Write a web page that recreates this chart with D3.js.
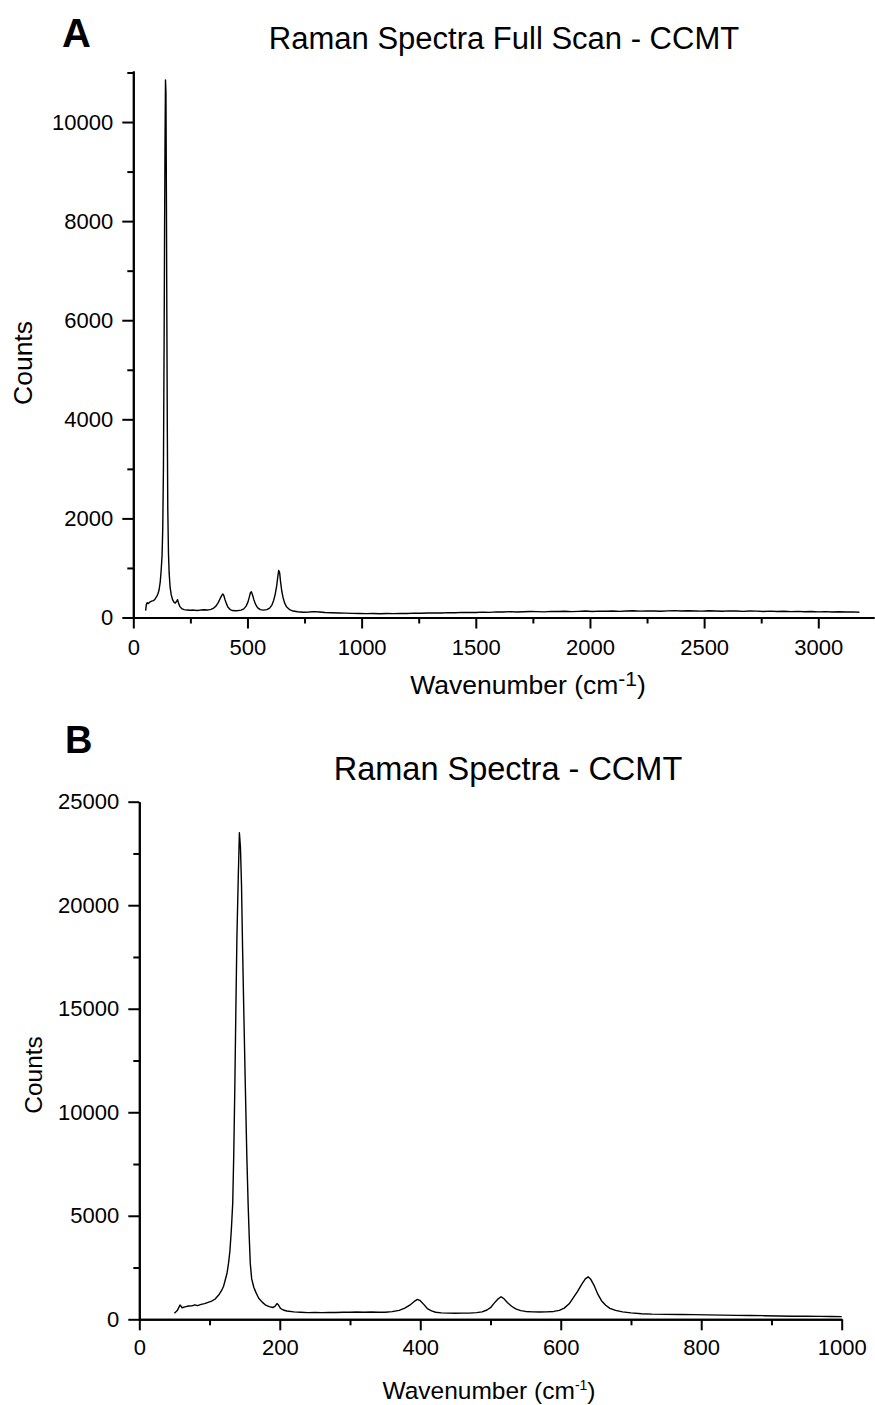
<!DOCTYPE html>
<html>
<head>
<meta charset="utf-8">
<script src="https://cdn.jsdelivr.net/npm/d3@7/dist/d3.min.js"></script>
<style>
  html, body { margin: 0; padding: 0; background: #fff; }
  svg { display: block; }
  text { font-family: "Liberation Sans", Arial, sans-serif; fill: #000; }
</style>
</head>
<body>
<svg id="chart" width="875" height="1405"></svg>
<script>
// ---------- Panel A: full scan ----------
const scanA_wavenumber = [54,57,61,65,72,80,88,95,102,108,113,118,122,126,129,132,135,137,139,141,143,145,147,149,151,154,157,161,166,172,178,184,190,194,198,204,212,222,235,250,265,280,295,310,325,340,352,362,372,380,387,392,396,401,407,414,424,435,448,460,472,484,494,502,508,513,517,522,528,535,544,556,570,585,597,607,615,622,628,633,637,641,645,650,656,663,672,684,700,720,745,770,790,815,840,870,900,930,960,990,1020,1050,1080,1110,1140,1170,1200,1230,1260,1290,1320,1350,1380,1410,1440,1470,1500,1530,1560,1590,1620,1650,1680,1710,1740,1770,1800,1830,1860,1890,1920,1950,1980,2010,2040,2070,2100,2130,2160,2190,2220,2250,2280,2310,2340,2370,2400,2430,2460,2490,2520,2550,2580,2610,2640,2670,2700,2730,2760,2790,2820,2850,2880,2910,2940,2970,3000,3030,3060,3090,3120,3150,3180,3197];
const scanA_counts = [140,260,300,280,310,330,340,370,420,480,560,720,950,1250,1800,3000,5600,7800,9600,10850,10600,8500,6000,3800,2200,1300,900,620,460,360,310,290,330,360,290,220,180,160,150,145,150,140,150,155,150,165,190,230,300,380,440,475,450,370,290,210,160,140,135,140,150,175,230,310,410,500,520,460,360,270,200,160,150,160,190,250,350,480,640,830,950,900,720,540,400,290,210,160,130,115,105,110,118,110,100,96,92,88,84,80,78,82,76,80,78,84,82,88,86,92,94,92,98,96,104,102,100,108,104,114,110,118,112,116,122,118,114,124,120,126,118,124,130,122,128,126,132,124,130,136,128,134,130,126,134,138,130,136,132,128,136,132,126,134,130,124,132,128,122,128,120,126,118,124,116,120,114,118,112,116,110,114,106];
const xTicksA = [0, 500, 1000, 1500, 2000, 2500, 3000];
const xMinorA = [250, 750, 1250, 1750, 2250, 2750, 3250];
const yTicksA = [0, 2000, 4000, 6000, 8000, 10000];
const yMinorA = [1000, 3000, 5000, 7000, 9000, 11000];
const titleA = "Raman Spectra Full Scan - CCMT";

// ---------- Panel B: 50-1000 cm-1 ----------
const scanB_wavenumber = [50,54,58,61,65,70,75,79,83,88,93,98,103,108,113,117,120,122,125,127,129,131,133,134.5,136,137.5,139,141,142.5,144,145.5,147,149,151,153,155,156.5,158,160,163,166,170,175,180,185,190,193,196,198,201,205,210,220,230,240,250,260,270,280,290,300,310,320,330,340,350,360,370,378,385,391,396,400,405,410,416,422,430,440,450,460,470,480,488,495,500,505,510,515,519,524,530,536,543,550,560,570,580,590,598,605,612,618,624,630,635,639,643,648,653,658,664,670,678,688,700,715,730,750,770,790,810,830,850,870,890,910,930,950,970,985,1000];
const scanB_counts = [290,420,690,560,600,640,650,700,660,720,760,820,880,980,1170,1380,1600,1850,2250,2700,3300,4300,5600,8000,11200,15000,18500,21500,23500,22800,21000,18000,14500,11200,8000,5500,4000,2700,1950,1550,1300,1020,830,680,610,570,620,760,700,530,450,400,360,340,320,330,320,330,330,340,340,350,340,350,340,340,370,430,540,680,850,960,900,720,520,410,340,310,300,290,300,300,320,360,450,560,770,960,1090,1000,810,630,500,420,380,360,350,360,380,430,540,750,1050,1350,1700,1950,2050,1920,1600,1200,900,680,530,430,360,310,270,250,240,230,225,215,200,190,185,175,160,150,145,140,135,130];
const xTicksB = [0, 200, 400, 600, 800, 1000];
const xMinorB = [100, 300, 500, 700, 900];
const yTicksB = [0, 5000, 10000, 15000, 20000, 25000];
const yMinorB = [2500, 7500, 12500, 17500, 22500];
const titleB = "Raman Spectra - CCMT";

const svg = d3.select("#chart");

function drawPanel(cfg) {
  const g = svg.append("g");
  const x = d3.scaleLinear().domain(cfg.xDomain).range([cfg.left, cfg.right]);
  const y = d3.scaleLinear().domain(cfg.yDomain).range([cfg.bottom, cfg.top]);

  const xMinorAxis = d3.axisBottom(x).tickValues(cfg.xMinor.filter(v => v <= cfg.xDomain[1])).tickSize(6).tickSizeOuter(0).tickFormat("");
  const yMinorAxis = d3.axisLeft(y).tickValues(cfg.yMinor.filter(v => v <= cfg.yDomain[1])).tickSize(6).tickSizeOuter(0).tickFormat("");
  const xAxis = d3.axisBottom(x).tickValues(cfg.xTicks).tickSize(11).tickSizeOuter(0).tickPadding(cfg.xPad).tickFormat(d3.format("d"));
  const yAxis = d3.axisLeft(y).tickValues(cfg.yTicks).tickSize(11).tickSizeOuter(0).tickPadding(9).tickFormat(d3.format("d"));

  [[xMinorAxis, "x"], [yMinorAxis, "y"], [xAxis, "x"], [yAxis, "y"]].forEach(([ax, t]) => {
    const a = g.append("g")
      .attr("transform", t === "x" ? `translate(0,${cfg.bottom})` : `translate(${cfg.left},0)`)
      .call(ax);
    a.selectAll("path.domain").attr("stroke", "#000").attr("stroke-width", 2);
    a.selectAll(".tick line").attr("stroke", "#000").attr("stroke-width", 2);
    a.selectAll("text").attr("font-size", 22).attr("font-family", "Liberation Sans, Arial, sans-serif").attr("fill", "#000");
  });

  const pts = cfg.wn.map((w, i) => [w, cfg.counts[i]]);
  g.append("path")
    .datum(pts)
    .attr("fill", "none")
    .attr("stroke", "#000")
    .attr("stroke-width", 1.4)
    .attr("stroke-linejoin", "round")
    .attr("d", d3.line().defined(d => d[1] != null).x(d => x(d[0])).y(d => y(d[1])));

  g.append("text").attr("x", cfg.letterX).attr("y", cfg.letterY)
    .attr("font-size", cfg.letterSize).attr("font-weight", "bold").text(cfg.letter);

  g.append("text").attr("x", cfg.titleX).attr("y", cfg.titleY)
    .attr("text-anchor", "middle").attr("font-size", cfg.titleSize).text(cfg.title);

  const xl = g.append("text").attr("x", cfg.xLabelX).attr("y", cfg.xLabelY)
    .attr("text-anchor", "middle").attr("font-size", cfg.labelSize);
  xl.append("tspan").text("Wavenumber (cm");
  xl.append("tspan").attr("font-size", cfg.supSize).attr("dy", -cfg.supShift).text("-1");
  xl.append("tspan").attr("dy", cfg.supShift).text(")");

  g.append("text")
    .attr("transform", `translate(${cfg.yLabelX},${cfg.yLabelY}) rotate(-90)`)
    .attr("text-anchor", "middle").attr("font-size", cfg.labelSize).text("Counts");
}

drawPanel({
  wn: scanA_wavenumber, counts: scanA_counts,
  xDomain: [0, 3244], yDomain: [0, 11030],
  left: 133.3, right: 874, top: 71, bottom: 617.5,
  xTicks: xTicksA, xMinor: xMinorA, yTicks: yTicksA, yMinor: yMinorA, xPad: 11,
  letter: "A", letterX: 62, letterY: 47, letterSize: 40,
  title: titleA, titleX: 504, titleY: 49, titleSize: 31,
  xLabelX: 528, xLabelY: 694, labelSize: 26.5, supSize: 21, supShift: 8,
  yLabelX: 32, yLabelY: 363
});

drawPanel({
  wn: scanB_wavenumber, counts: scanB_counts,
  xDomain: [0, 1000], yDomain: [0, 25000],
  left: 139.3, right: 841.7, top: 801.7, bottom: 1319.3,
  xTicks: xTicksB, xMinor: xMinorB, yTicks: yTicksB, yMinor: yMinorB, xPad: 9.5,
  letter: "B", letterX: 65, letterY: 753, letterSize: 38,
  title: titleB, titleX: 508, titleY: 780, titleSize: 32.5,
  xLabelX: 489, xLabelY: 1399, labelSize: 24.5, supSize: 14, supShift: 9,
  yLabelX: 42, yLabelY: 1075
});
</script>
</body>
</html>
